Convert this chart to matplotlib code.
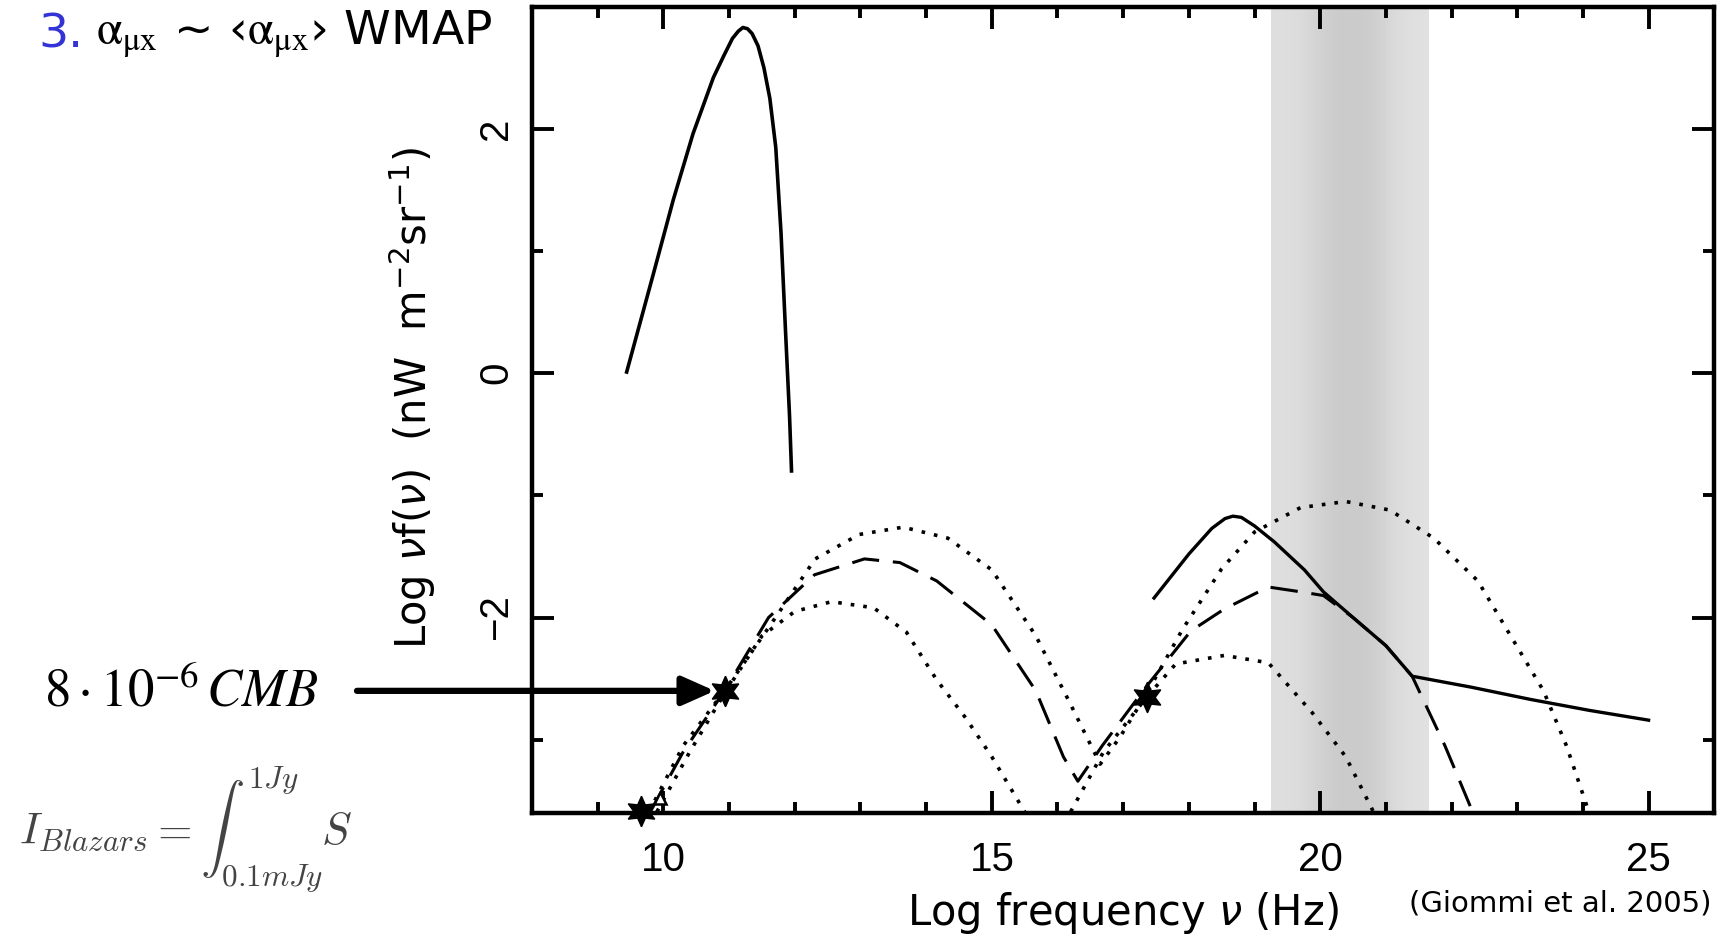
"""
Blazar SED models vs. CMB and the cosmic X-ray / gamma-ray background
(after Giommi et al. 2005).
"""

import numpy as np
import matplotlib
matplotlib.use("Agg")
import matplotlib.pyplot as plt
from matplotlib.ticker import MultipleLocator

# ── Curves (x = log nu [Hz], y = log nu f(nu)) ────────────────────────────────
cmb_x = [9.44, 9.85, 10.15, 10.45, 10.76, 10.92, 11.05, 11.14, 11.21, 11.28,
         11.35, 11.44, 11.53, 11.62, 11.71, 11.79, 11.86, 11.92, 11.95]
cmb_y = [0.01, 0.82, 1.42, 1.96, 2.42, 2.60, 2.74, 2.80, 2.83, 2.82,
         2.78, 2.68, 2.50, 2.25, 1.85, 1.15, 0.33, -0.35, -0.80]

# observed X-ray / gamma-ray background (solid)
bkg_x = [17.47, 18.0, 18.35, 18.55, 18.67, 18.8, 19.0, 19.3, 19.76, 20.05,
         20.5, 21.0, 21.4, 22.3, 23.2, 24.1, 25.0]
bkg_y = [-1.84, -1.48, -1.27, -1.19, -1.17, -1.18, -1.25, -1.38, -1.61, -1.79,
         -2.0, -2.23, -2.48, -2.57, -2.67, -2.76, -2.84]

# upper dotted model
hi_x = [9.78, 10.3, 10.93, 11.63, 12.31, 12.98, 13.65, 14.33, 15.0, 15.67,
        16.18, 16.65, 16.95, 17.36, 17.9, 18.5, 19.0, 19.7, 20.39, 21.06,
        21.73, 22.4, 22.9, 23.4, 23.75, 24.09]
hi_y = [-3.59, -3.05, -2.60, -2.06, -1.52, -1.32, -1.26, -1.35, -1.61, -2.15,
        -2.69, -3.2, -2.98, -2.62, -2.1, -1.6, -1.3, -1.1, -1.05, -1.12,
        -1.35, -1.7, -2.15, -2.6, -3.05, -3.59]

# dashed model
mid_x = [9.8, 10.3, 10.93, 11.6, 12.3, 13.06, 13.6, 14.16, 15.0, 15.67,
         16.09, 16.31, 16.68, 17.36, 18.03, 18.54, 19.21, 19.71, 20.05, 20.5,
         21.0, 21.4, 21.9, 22.32]
mid_y = [-3.59, -3.1, -2.60, -2.0, -1.65, -1.52, -1.55, -1.70, -2.06, -2.60,
         -3.14, -3.34, -3.05, -2.56, -2.11, -1.93, -1.75, -1.79, -1.82, -2.0,
         -2.23, -2.48, -3.05, -3.59]

# lower dotted model (two humps, each leaving the frame)
lo1_x = [9.9, 10.4, 10.93, 11.5, 12.0, 12.56, 13.2, 13.7, 14.16, 14.6, 15.0, 15.5]
lo1_y = [-3.59, -3.1, -2.62, -2.15, -1.95, -1.87, -1.92, -2.12, -2.51, -2.82, -3.14, -3.59]
lo2_x = [16.2, 16.7, 17.36, 17.8, 18.54, 19.21, 19.88, 20.39, 20.81]
lo2_y = [-3.59, -3.1, -2.65, -2.38, -2.31, -2.37, -2.78, -3.14, -3.59]

# constraints (stars) and radio point
star_x = [9.66, 10.93, 17.36]
star_y = [-3.58, -2.60, -2.65]
tri_x = [9.95]
tri_y = [-3.48]

# shaded energy band and its shading profile (grey level)
band_lo, band_hi = 19.25, 21.65
band_shade = [0.87, 0.86, 0.80, 0.79, 0.80, 0.86, 0.88]

XLIM = (8.0, 26.0)
YLIM = (-3.6, 3.0)
TICK_FONT = "Liberation Sans"


def main():
    fig = plt.figure(figsize=(17.22, 9.36), dpi=100)
    ax = fig.add_axes([0.309, 0.1314, 0.9955 - 0.309, 0.9928 - 0.1314])

    # grey band
    ax.imshow(np.array(band_shade)[None, :], cmap="gray", vmin=0, vmax=1,
              extent=(band_lo, band_hi, YLIM[0], YLIM[1]), aspect="auto",
              interpolation="bicubic", zorder=0)

    dot = dict(color="black", lw=2.6, linestyle=(0, (1, 2.5)))
    dash = dict(color="black", lw=2.2, linestyle=(0, (9, 4.5)))
    ax.plot(hi_x, hi_y, **dot)
    ax.plot(lo1_x, lo1_y, **dot)
    ax.plot(lo2_x, lo2_y, **dot)
    ax.plot(mid_x, mid_y, **dash)
    ax.plot(cmb_x, cmb_y, color="black", lw=2.6)
    ax.plot(bkg_x, bkg_y, color="black", lw=2.4)

    ax.plot(star_x, star_y, ls="none", marker=(6, 1, 0), ms=22, color="black",
            clip_on=False, zorder=5)
    ax.plot(tri_x, tri_y, ls="none", marker="^", ms=9, mfc="white", mec="black",
            mew=1.8, zorder=5)

    ax.set_xlim(*XLIM)
    ax.set_ylim(*YLIM)
    ax.xaxis.set_major_locator(MultipleLocator(5))
    ax.xaxis.set_minor_locator(MultipleLocator(1))
    ax.yaxis.set_major_locator(MultipleLocator(2))
    ax.yaxis.set_minor_locator(MultipleLocator(1))
    ax.tick_params(which="both", direction="in", top=True, right=True,
                   width=2.8, colors="black")
    ax.tick_params(which="major", length=16)
    ax.tick_params(which="minor", length=8)
    ax.tick_params(axis="x", which="major", pad=20, labelsize=29)
    ax.tick_params(axis="y", which="major", pad=12, labelsize=29,
                   labelrotation=90)
    for lab in ax.get_xticklabels() + ax.get_yticklabels():
        lab.set_family(TICK_FONT)
    for lab in ax.get_yticklabels():
        lab.set_va("center")
    for sp in ax.spines.values():
        sp.set_linewidth(3.2)

    ax.set_xlabel(r"Log frequency $\nu$ (Hz)", fontsize=30, family="DejaVu Sans",
                  labelpad=8)
    ax.set_ylabel(r"Log $\nu$f($\nu$)  (nW  m$^{-2}$sr$^{-1}$)", fontsize=30,
                  family="DejaVu Sans")
    ax.yaxis.set_label_coords(-0.08, 0.514)

    # arrow pointing at the CMB-fraction constraint
    ax.annotate("", xy=(star_x[1], star_y[1]), xycoords="data",
                xytext=(0.2073, star_y[1]),
                textcoords=("figure fraction", "data"),
                arrowprops=dict(arrowstyle="-|>,head_length=0.9,head_width=0.4",
                                lw=4.5, color="black", mutation_scale=22,
                                shrinkA=0, shrinkB=7),
                annotation_clip=False)

    fig.text(0.0256, 0.2607, r"$8\cdot10^{-6}\,CMB$", fontsize=38,
             math_fontfamily="stix", va="center", ha="left")
    fig.text(0.011, 0.114, r"$I_{Blazars}=\int_{0.1mJy}^{1Jy}S$", fontsize=32,
             math_fontfamily="cm", color="#444444", va="center", ha="left")

    fig.text(0.022, 0.963, "3.", fontsize=34, color="#3434d6", va="center",
             ha="left")
    fig.text(0.056, 0.963, r"$\mathrm{\alpha_{\mu x}}$ ~ ‹$\mathrm{\alpha_{\mu x}}$› WMAP",
             fontsize=34, math_fontfamily="stix", va="center", ha="left")
    fig.text(0.994, 0.035, "(Giommi et al. 2005)", fontsize=21, va="center",
             ha="right")

    fig.savefig("out.png", dpi=100)
    plt.close(fig)


if __name__ == "__main__":
    main()
